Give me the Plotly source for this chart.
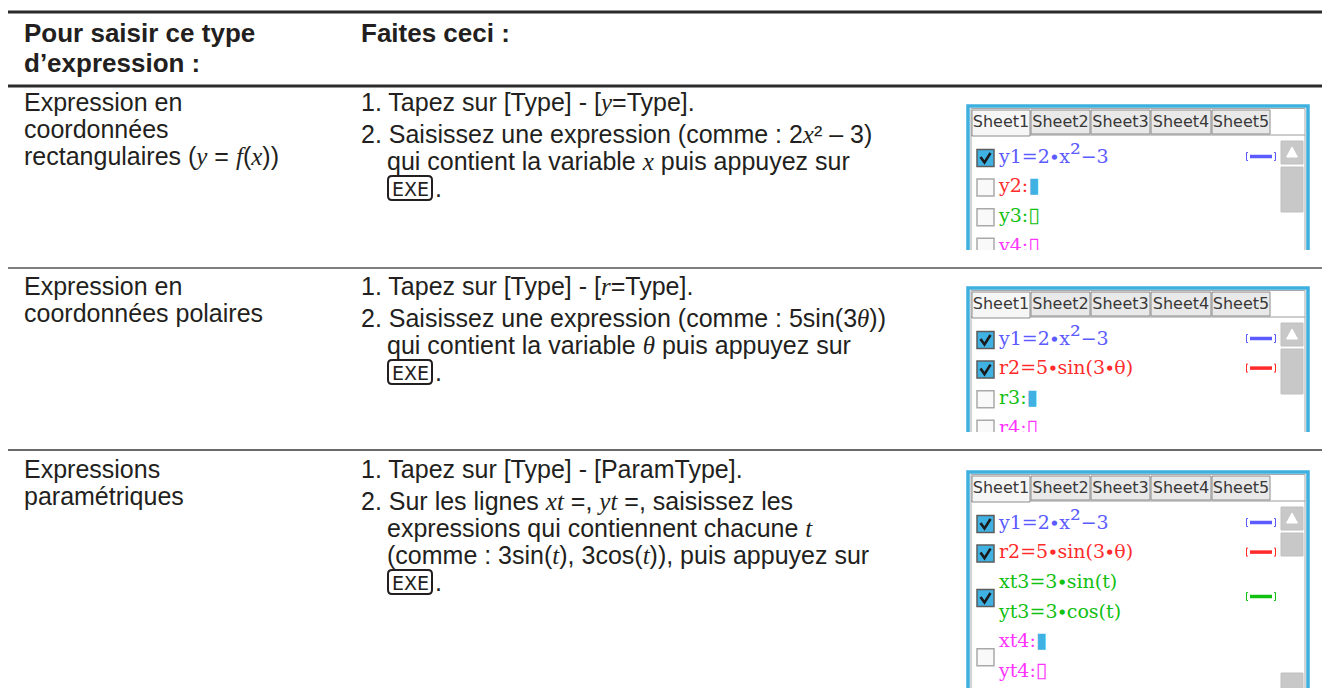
import plotly.graph_objects as go

W, H = 1322, 688


def mv(s):
    """math variable in italic serif"""
    return f'<span style="font-family:Liberation Serif"><i>{s}</i></span>'


KEY = "<EXE>"
SQ = '<span style="font-size:27px">²</span>'

# ---------------- table text ----------------
header_left = ["Pour saisir ce type", "d’expression :"]
header_right = ["Faites ceci :"]

type_labels = [
    ["Expression en", "coordonnées", "rectangulaires (" + mv("y") + " = " + mv("f") + "(" + mv("x") + "))"],
    ["Expression en", "coordonnées polaires"],
    ["Expressions", "paramétriques"],
]

step_numbers = ["1.", "2."]
steps = [
    [
        ["Tapez sur [Type] - [" + mv("y") + "=Type]."],
        ["Saisissez une expression (comme : 2" + mv("x") + "² – 3)",
         "qui contient la variable " + mv("x") + " puis appuyez sur", KEY],
    ],
    [
        ["Tapez sur [Type] - [" + mv("r") + "=Type]."],
        ["Saisissez une expression (comme : 5sin(3" + mv("θ") + "))",
         "qui contient la variable " + mv("θ") + " puis appuyez sur", KEY],
    ],
    [
        ["Tapez sur [Type] - [ParamType]."],
        ["Sur les lignes " + mv("xt") + " =, " + mv("yt") + " =, saisissez les",
         "expressions qui contiennent chacune " + mv("t"),
         "(comme : 3sin(" + mv("t") + "), 3cos(" + mv("t") + ")), puis appuyez sur", KEY],
    ],
]
key_label = "EXE"

# ---------------- calculator screens ----------------
sheet_tabs = ["Sheet1", "Sheet2", "Sheet3", "Sheet4", "Sheet5"]
# each entry: (lines, colour name, checked, cursor per line, style indicator)
screens = [
    [
        (["y1=2∙x" + SQ + "−3"], "blue", True, [""], True),
        (["y2:"], "red", False, ["F"], False),
        (["y3:"], "green", False, ["E"], False),
        (["y4:"], "magenta", False, ["E"], False),
    ],
    [
        (["y1=2∙x" + SQ + "−3"], "blue", True, [""], True),
        (["r2=5∙sin(3∙θ)"], "red", True, [""], True),
        (["r3:"], "green", False, ["F"], False),
        (["r4:"], "magenta", False, ["E"], False),
    ],
    [
        (["y1=2∙x" + SQ + "−3"], "blue", True, [""], True),
        (["r2=5∙sin(3∙θ)"], "red", True, [""], True),
        (["xt3=3∙sin(t)", "yt3=3∙cos(t)"], "green", True, ["", ""], True),
        (["xt4:", "yt4:"], "magenta", False, ["F", "E"], False),
    ],
]

# ---------------- styles / layout constants ----------------
SANS = "Liberation Sans, Arial, sans-serif"
BODY = 25
HEAD = 26
PAD = 3  # annotation inner padding
PALETTE = {"blue": "#5b5bff", "red": "#ff2b2b", "green": "#12c012", "magenta": "#ff33ff"}
FRAME = "#3eb0e0"
RULES = [(12, 3, "#2b2b2b"), (86, 3, "#2b2b2b"), (268, 1.6, "#555555"), (450, 2, "#6a6a6a")]
ROW_TOPS = [86, 268, 450]
ROW_FIRST = [16, 18, 19]
SCREEN_TOPS = [106, 288, 472]
SCREEN_BOTTOMS = [250, 432, 688]
COL1_X, COL2_X, STEP_TXT_X = 25, 362, 388
LINE = 27
STEP_GAP = 5

fig = go.Figure()
fig.update_layout(
    width=W, height=H, margin=dict(l=0, r=0, t=0, b=0, pad=0), autosize=False,
    paper_bgcolor="white", plot_bgcolor="rgba(0,0,0,0)", showlegend=False,
    xaxis=dict(domain=[0, 1], range=[0, W], visible=False, fixedrange=True),
    yaxis=dict(domain=[0, 1], range=[H, 0], visible=False, fixedrange=True),
)


def ann(x, y, text, size=BODY, bold=False, family=SANS, color="#231f20", xanchor="left"):
    fig.add_annotation(x=x - (PAD if xanchor == "left" else 0), y=y, xref="x", yref="y",
                       text=text, showarrow=False, xanchor=xanchor, yanchor="middle",
                       font=dict(family=family, size=size, color=color,
                                 weight="bold" if bold else "normal"))


# rules
for y, w, c in RULES:
    fig.add_shape(type="line", xref="x", yref="y", x0=8, x1=W, y0=y, y1=y,
                  line=dict(color=c, width=w), layer="below")

# header
for i, t in enumerate(header_left):
    ann(COL1_X, 33 + 30 * i, t, size=HEAD, bold=True)
ann(COL2_X, 33, header_right[0], size=HEAD, bold=True)


def exe_key(x, y):
    x0, x1, y0, y1, r = x, x + 44, y - 12, y + 12, 4
    path = (f"M{x0+r},{y0} L{x1-r},{y0} Q{x1},{y0} {x1},{y0+r} L{x1},{y1-r} Q{x1},{y1} {x1-r},{y1} "
            f"L{x0+r},{y1} Q{x0},{y1} {x0},{y1-r} L{x0},{y0+r} Q{x0},{y0} {x0+r},{y0} Z")
    fig.add_shape(type="path", xref="x", yref="y", path=path,
                  line=dict(color="#231f20", width=2), layer="below")
    ann(x + 22, y + 0.5, key_label, size=19, family="DejaVu Sans", xanchor="center")
    ann(x + 48, y, ".")


# body rows
for r, top in enumerate(ROW_TOPS):
    y0 = top + ROW_FIRST[r]
    for i, t in enumerate(type_labels[r]):
        ann(COL1_X, y0 + LINE * i, t)
    y = y0
    for s, lines in enumerate(steps[r]):
        ann(COL2_X, y, step_numbers[s] + " " + lines[0])
        for ln in lines[1:]:
            y += LINE
            if ln == KEY:
                exe_key(STEP_TXT_X, y)
            else:
                ann(STEP_TXT_X, y, ln)
        y += LINE + STEP_GAP


# ---------------- screens ----------------
SX0, SX1 = 960, W
FL, FR = 968, 1308
PITCH = 29.6

for k, (T, B, rows) in enumerate(zip(SCREEN_TOPS, SCREEN_BOTTOMS, screens)):
    n = k + 2
    xa, ya = f"x{n}", f"y{n}"
    fig.update_layout({
        f"xaxis{n}": dict(domain=[SX0 / W, SX1 / W], range=[SX0, SX1], visible=False,
                          fixedrange=True, anchor=ya),
        f"yaxis{n}": dict(domain=[1 - B / H, 1 - (T - 3) / H], range=[B, T - 3], visible=False,
                          fixedrange=True, anchor=xa),
    })

    def shp(**kw):
        fig.add_shape(xref=xa, yref=ya, layer="below", **kw)

    # frame
    shp(type="rect", x0=FL, x1=FR, y0=T, y1=B + 10, line=dict(color=FRAME, width=3.5),
        fillcolor="white")
    shp(type="rect", x0=FL + 3, x1=FR - 3, y0=T + 2.5, y1=B + 10, line=dict(color="#a8a8a8", width=1))
    # tabs
    shp(type="line", x0=FL + 3, x1=FR - 3, y0=T + 29, y1=T + 29, line=dict(color="#9a9a9a", width=1))
    tab_x = [972, 1031, 1091, 1151, 1212, 1271]
    for j in range(5):
        shp(type="rect", x0=tab_x[j], x1=tab_x[j + 1] - 1, y0=T + 4, y1=T + (30 if j == 0 else 28),
            line=dict(color="#8c8c8c", width=1),
            fillcolor="#f6f6f6" if j == 0 else "#e9e9e9")
    fig.add_trace(go.Scatter(
        x=[(tab_x[j] + tab_x[j + 1] - 1) / 2 for j in range(5)], y=[T + 17] * 5,
        text=sheet_tabs, mode="text", textposition="middle center",
        textfont=dict(family="DejaVu Sans", size=16, color="#383838"),
        xaxis=xa, yaxis=ya, hoverinfo="skip", cliponaxis=True))

    # scrollbar
    ub0, ub1 = T + 35, T + 58
    shp(type="rect", x0=1281, x1=1303, y0=ub0, y1=ub1, fillcolor="#c8c8c8",
        line=dict(color="#c0c0c0", width=1))
    shp(type="path", path=f"M1286.5,{ub1-7} L1297.5,{ub1-7} L1292,{ub0+6} Z",
        fillcolor="white", line=dict(color="white", width=1))
    thumb_len = 45 if k < 2 else 23
    shp(type="rect", x0=1281, x1=1303, y0=ub1 + 3, y1=ub1 + 3 + thumb_len, fillcolor="#c8c8c8",
        line=dict(color="#c0c0c0", width=1))
    if k == 2:
        shp(type="rect", x0=1281, x1=1303, y0=B - 15, y1=B + 10, fillcolor="#c8c8c8",
            line=dict(color="#c0c0c0", width=1))

    # rows
    slot = 0
    for lines, cname, checked, cursors, ind in rows:
        col = PALETTE[cname]
        ys = [T + 52 + PITCH * (slot + i) for i in range(len(lines))]
        yc = sum(ys) / len(ys)
        # checkbox
        cb0, cb1 = yc - 8.5, yc + 8.5
        if checked:
            shp(type="rect", x0=977, x1=994, y0=cb0, y1=cb1, fillcolor="#3fb1e2",
                line=dict(color="#5c5c5c", width=1.5))
            shp(type="path", path=f"M980.5,{yc-1} L984.5,{yc+4.5} L990.5,{yc-5}",
                line=dict(color="#1b1b1b", width=2.6))
        else:
            shp(type="rect", x0=977, x1=994, y0=cb0, y1=cb1, fillcolor="#f9f9f9",
                line=dict(color="#a9a9a9", width=1.5))
        # text + cursor
        for yy, ln, cur in zip(ys, lines, cursors):
            if cur == "F":
                ln += '<span style="color:#3fb1e2;font-size:21px">▮</span>'
            elif cur == "E":
                ln += '<span style="font-size:21px">▯</span>'
            fig.add_trace(go.Scatter(
                x=[999], y=[yy], text=[ln], mode="text", textposition="middle right",
                textfont=dict(family="DejaVu Serif", size=19, color=col),
                xaxis=xa, yaxis=ya, hoverinfo="skip", cliponaxis=True))
        # line style indicator
        if ind:
            yi = yc - 1.5
            shp(type="path", path=f"M1248,{yi-4} L1246.5,{yi-4} L1246.5,{yi+4} L1248,{yi+4}",
                line=dict(color=col, width=1))
            shp(type="path", path=f"M1274,{yi-4} L1275.5,{yi-4} L1275.5,{yi+4} L1274,{yi+4}",
                line=dict(color=col, width=1))
            shp(type="line", x0=1250, x1=1272, y0=yi, y1=yi, line=dict(color=col, width=3.5))
        slot += len(lines)

fig.write_html("out.html", config={"displayModeBar": False},
               post_script="document.body.style.margin='0';document.body.style.padding='0';")
